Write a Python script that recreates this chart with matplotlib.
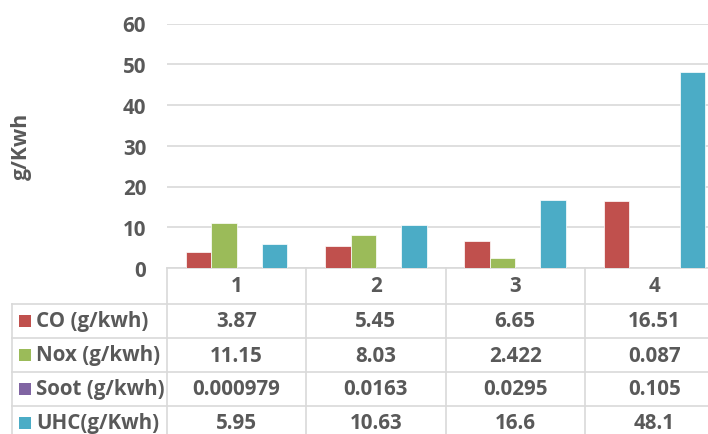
import numpy as np
import matplotlib
matplotlib.use("Agg")
import matplotlib.pyplot as plt
import matplotlib.transforms as mtransforms
from matplotlib.patches import Rectangle

plt.rcParams['font.family'] = ['Open Sans', 'DejaVu Sans']

categories = ['1', '2', '3', '4']
series_names = ['CO (g/kwh)', 'Nox (g/kwh)', 'Soot (g/kwh)', 'UHC(g/Kwh)']
co = [3.87, 5.45, 6.65, 16.51]
nox = [11.15, 8.03, 2.422, 0.087]
soot = [0.000979, 0.0163, 0.0295, 0.105]
uhc = [5.95, 10.63, 16.6, 48.1]
table_text = [
    ['3.87', '5.45', '6.65', '16.51'],
    ['11.15', '8.03', '2.422', '0.087'],
    ['0.000979', '0.0163', '0.0295', '0.105'],
    ['5.95', '10.63', '16.6', '48.1'],
]
colors = ['#C0504D', '#9BBB59', '#8064A2', '#4BACC6']

txt = '#595959'
grid = '#D9D9D9'
fs = 14.8
W, H = 708, 435

fig = plt.figure(figsize=(W / 100, H / 100), dpi=100)
# plot area runs a little past the right edge of the picture
ax = fig.add_axes([167 / W, 1 - 269 / H, (724 - 167) / W, (269 - 24.5) / H])

x = np.arange(len(categories))
bw = 0.182
for i, vals in enumerate([co, nox, soot, uhc]):
    ax.bar(x + (i - 1.5) * bw, vals, bw, color=colors[i], edgecolor='white',
           linewidth=0.5, zorder=3)

ax.set_xlim(-0.5, 3.5)
ax.set_ylim(0, 60)
ax.set_yticks(np.arange(0, 61, 10))
ax.yaxis.grid(True, color=grid, linewidth=1.2, zorder=0)
ax.set_xticks([])
for s in ['top', 'right', 'left']:
    ax.spines[s].set_visible(False)
ax.spines['bottom'].set_color(grid)
ax.spines['bottom'].set_linewidth(1.2)
ax.tick_params(axis='y', length=0, pad=15, labelsize=fs, labelcolor=txt)
for lab in ax.get_yticklabels():
    lab.set_fontweight('bold')
ax.set_ylabel('g/Kwh', fontsize=fs + 0.5, fontweight='bold', color=txt, labelpad=0)
ax.yaxis.set_label_coords(-135 / (724 - 167), 0.5)

# data table under the chart
fy = lambda p: 1 - p / H
blend = mtransforms.blended_transform_factory(ax.transData, fig.transFigure)
row_lines = [305, 339, 373, 407, 441]
for yp in row_lines:
    fig.add_artist(plt.Line2D([12 / W, 1], [fy(yp)] * 2, color=grid, lw=1.2))
fig.add_artist(plt.Line2D([12 / W] * 2, [fy(305), fy(441)], color=grid, lw=1.2))
fig.add_artist(plt.Line2D([167 / W] * 2, [fy(269), fy(441)], color=grid, lw=1.2))
for b in np.arange(0.5, 4, 1.0):
    fig.add_artist(plt.Line2D([b, b], [fy(269), fy(441)], color=grid, lw=1.2,
                              transform=blend))

for j, c in enumerate(categories):
    fig.text(x[j], fy(287), c, transform=blend, ha='center', va='center',
             fontsize=fs, fontweight='bold', color=txt)

row_centers = [322, 356, 390, 424]
for i, name in enumerate(series_names):
    yc = fy(row_centers[i])
    fig.add_artist(Rectangle((19 / W, yc - 6 / H), 12 / W, 12 / H,
                             facecolor=colors[i], edgecolor='none',
                             transform=fig.transFigure))
    fig.text(36 / W, yc, name, ha='left', va='center', fontsize=fs,
             fontweight='bold', color=txt)
    for j in range(len(categories)):
        fig.text(x[j], yc, table_text[i][j], transform=blend, ha='center',
                 va='center', fontsize=fs, fontweight='bold', color=txt)

fig.savefig('out.png', dpi=100)
